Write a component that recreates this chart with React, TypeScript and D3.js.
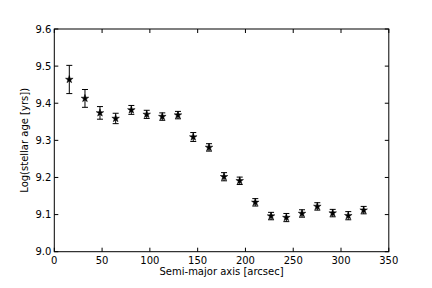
import React from "react";
import * as d3 from "d3";

const xs = [15.7, 32.1, 47.8, 64.2, 80.6, 96.7, 113, 129.4, 145.4, 161.9, 177.6, 194, 210.3, 226.8, 242.8, 259.2, 275.2, 291.3, 307.6, 323.7];
const ys = [9.464, 9.413, 9.374, 9.359, 9.382, 9.37, 9.364, 9.368, 9.309, 9.281, 9.202, 9.191, 9.133, 9.096, 9.092, 9.103, 9.122, 9.104, 9.097, 9.112];
const errs = [0.038, 0.024, 0.017, 0.014, 0.012, 0.011, 0.01, 0.01, 0.012, 0.01, 0.011, 0.01, 0.01, 0.01, 0.011, 0.01, 0.01, 0.01, 0.011, 0.01];
const xTicks = [0, 50, 100, 150, 200, 250, 300, 350];
const yTicks = [9.0, 9.1, 9.2, 9.3, 9.4, 9.5, 9.6];

const W = 432, H = 288;
const L = 54.3, R = 388.8, T = 29, B = 251.7;

export default function App() {
  const x = d3.scaleLinear().domain([0, 350]).range([L, R]);
  const y = d3.scaleLinear().domain([9.0, 9.6]).range([B, T]);
  const star = d3.symbol().type(d3.symbolStar).size(18)();
  const font = "DejaVu Sans";
  return (
    <svg width={W} height={H} style={{ position: "absolute", left: 0, top: 0 }} fontFamily={font}>
      <rect x={0} y={0} width={W} height={H} fill="#fff" />
      {xs.map((xv, i) => {
        const cx = x(xv);
        const y1 = y(ys[i] + errs[i]);
        const y2 = y(ys[i] - errs[i]);
        return (
          <g key={"e" + i} stroke="#000" strokeWidth={1}>
            <line x1={cx} x2={cx} y1={y1} y2={y2} />
            <line x1={cx - 3} x2={cx + 3} y1={y1} y2={y1} />
            <line x1={cx - 3} x2={cx + 3} y1={y2} y2={y2} />
          </g>
        );
      })}
      {xs.map((xv, i) => (
        <path key={"s" + i} d={star} transform={`translate(${x(xv)},${y(ys[i])})`} fill="#000" stroke="#000" strokeWidth={0.5} />
      ))}
      <g stroke="#000" strokeWidth={1}>
        {xTicks.map((t) => (
          <g key={"xt" + t}>
            <line x1={x(t)} x2={x(t)} y1={B} y2={B - 4} />
            <line x1={x(t)} x2={x(t)} y1={T} y2={T + 4} />
          </g>
        ))}
        {yTicks.map((t) => (
          <g key={"yt" + t}>
            <line x1={L} x2={L + 4} y1={y(t)} y2={y(t)} />
            <line x1={R} x2={R - 4} y1={y(t)} y2={y(t)} />
          </g>
        ))}
      </g>
      <rect x={L} y={T} width={R - L} height={B - T} fill="none" stroke="#000" strokeWidth={1} />
      {xTicks.map((t) => (
        <text key={"xl" + t} x={x(t)} y={B + 12.5} fontSize={10} textAnchor="middle" fill="#000">
          {t}
        </text>
      ))}
      {yTicks.map((t) => (
        <text key={"yl" + t} x={L - 3} y={y(t) + 3.6} fontSize={10} textAnchor="end" fill="#000">
          {t.toFixed(1)}
        </text>
      ))}
      <text x={(L + R) / 2} y={275} fontSize={10} textAnchor="middle" fill="#000">
        Semi-major axis [arcsec]
      </text>
      <text transform={`translate(28,${(T + B) / 2}) rotate(-90)`} fontSize={10} textAnchor="middle" fill="#000">
        Log(stellar age [yrs])
      </text>
    </svg>
  );
}
